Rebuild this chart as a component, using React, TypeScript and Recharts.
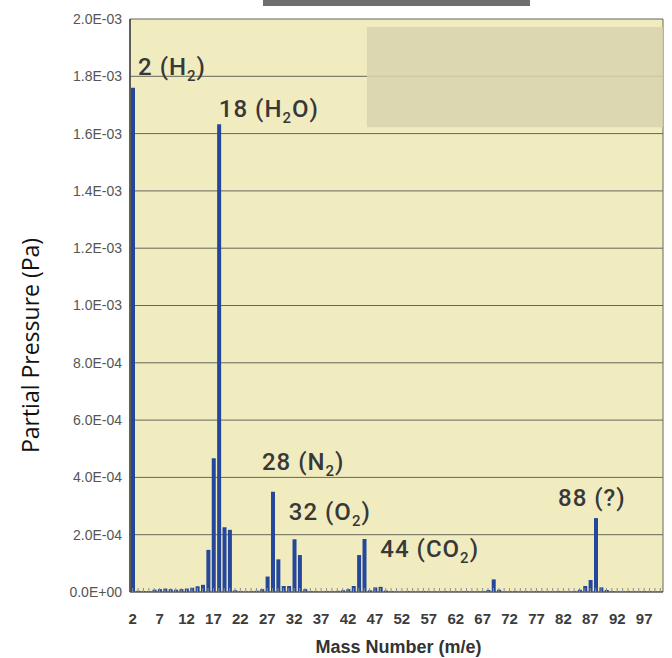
import { Bar, BarChart, CartesianGrid, ReferenceArea, ReferenceDot, XAxis, YAxis } from "recharts"

// mass numbers on the x axis (m/e 2 .. 100)
const massNumbers = Array.from({ length: 99 }, (_, i) => i + 2)

// partial pressure (Pa) read per mass number, starting at m/e 2
const pressures = [
  1.76e-3, 4e-6, 3e-6, 3e-6, 8e-6, 1.0e-5, 1.2e-5, 1.0e-5, 8e-6, 1.0e-5, // 2-11
  1.2e-5, 1.5e-5, 2.0e-5, 2.5e-5, 1.47e-4, 4.67e-4, 1.633e-3, 2.26e-4, 2.17e-4, 6e-6, // 12-21
  3e-6, 2e-6, 3e-6, 4e-6, 1.0e-5, 5.4e-5, 3.5e-4, 1.14e-4, 2.1e-5, 2.1e-5, // 22-31
  1.84e-4, 1.29e-4, 1.0e-5, 3e-6, 3e-6, 2e-6, 3e-6, 3e-6, 4e-6, 6e-6, // 32-41
  1.0e-5, 2.1e-5, 1.29e-4, 1.85e-4, 6e-6, 1.6e-5, 1.8e-5, 5e-6, 3e-6, 2e-6, // 42-51
  2e-6, 3e-6, 2e-6, 2e-6, 3e-6, 2e-6, 2e-6, 2e-6, 3e-6, 2e-6, // 52-61
  2e-6, 2e-6, 3e-6, 2e-6, 2e-6, 3e-6, 7e-6, 4.4e-5, 8e-6, 2e-6, // 62-71
  2e-6, 3e-6, 2e-6, 2e-6, 2e-6, 3e-6, 2e-6, 2e-6, 2e-6, 3e-6, // 72-81
  2e-6, 2e-6, 3e-6, 8e-6, 2.1e-5, 4.2e-5, 2.58e-4, 1.6e-5, 7e-6, 3e-6, // 82-91
  2e-6, 2e-6, 3e-6, 2e-6, 2e-6, 3e-6, 2e-6, 2e-6, 2e-6, // 92-100
]

const yTicks = [0, 2e-4, 4e-4, 6e-4, 8e-4, 1.0e-3, 1.2e-3, 1.4e-3, 1.6e-3, 1.8e-3, 2.0e-3]
const xTickLabels = [2, 7, 12, 17, 22, 27, 32, 37, 42, 47, 52, 57, 62, 67, 72, 77, 82, 87, 92, 97]

// peak annotations: text start (mass) and baseline (pressure)
const peakNotes = [
  { mass: 3, level: 1.804e-3, head: "2 (H", sub: "2", tail: ")" },
  { mass: 18, level: 1.657e-3, head: "18 (H", sub: "2", tail: "O)" },
  { mass: 26, level: 4.27e-4, head: "28 (N", sub: "2", tail: ")" },
  { mass: 31, level: 2.52e-4, head: "32 (O", sub: "2", tail: ")" },
  { mass: 48, level: 1.22e-4, head: "44 (CO", sub: "2", tail: ")" },
  { mass: 81, level: 3.0e-4, head: "88 (?)", sub: "", tail: "" },
]

const data = massNumbers.map((m, i) => ({ mass: m, pressure: pressures[i] }))

const fmtSci = (v: number) => {
  if (v === 0) return "0.0E+00"
  const [mant, exp] = v.toExponential(1).split("e")
  const e = Number(exp)
  return `${mant}E${e < 0 ? "-" : "+"}${String(Math.abs(e)).padStart(2, "0")}`
}

const XTick = (props: any) => {
  const { x, y, payload } = props
  const base = y - 10
  const show = xTickLabels.includes(payload.value)
  return (
    <g>
      <line x1={x} x2={x} y1={base} y2={base - 4} stroke="#8c8c96" strokeWidth={1} />
      {show && (
        <text
          x={x}
          y={base + 32}
          textAnchor="middle"
          fontFamily="'Liberation Sans Narrow', 'Liberation Sans', Arial, sans-serif"
          fontWeight="bold"
          fontSize={15}
          fill="#3c3c3c"
        >
          {payload.value}
        </text>
      )}
    </g>
  )
}

const XTitle = (props: any) => {
  const { viewBox } = props
  return (
    <text
      x={viewBox.x + viewBox.width / 2 + 2}
      y={viewBox.y + 61}
      textAnchor="middle"
      fontFamily="'Liberation Sans', Arial, sans-serif"
      fontWeight="bold"
      fontSize={18}
      fill="#333"
    >
      Mass Number (m/e)
    </text>
  )
}

const NoteLabel = (note: (typeof peakNotes)[number]) => (props: any) => {
  const { viewBox } = props
  return (
    <text
      x={viewBox.x}
      y={viewBox.y}
      fontFamily="Roboto, 'Liberation Sans', Arial, sans-serif"
      fontWeight={500}
      fontSize={24}
      letterSpacing={1}
      fill="#383838"
    >
      <tspan>{note.head}</tspan>
      {note.sub && (
        <tspan dy={6} fontSize={15}>
          {note.sub}
        </tspan>
      )}
      {note.tail && <tspan dy={note.sub ? -6 : 0}>{note.tail}</tspan>}
    </text>
  )
}

const YTitle = (props: any) => {
  const { viewBox } = props
  const cx = 30
  const cy = viewBox.y + viewBox.height / 2 + 40
  return (
    <text
      x={cx}
      y={cy}
      transform={`rotate(-90 ${cx} ${cy})`}
      textAnchor="middle"
      dominantBaseline="central"
      fontFamily="'Open Sans', sans-serif"
      fontSize={23}
      fill="#111"
    >
      Partial Pressure (Pa)
    </text>
  )
}

export default function App() {
  return (
    <div style={{ position: "fixed", left: 0, top: 0, width: 672, height: 658, background: "#fff" }}>
      <BarChart
        width={672}
        height={658}
        data={data}
        margin={{ top: 19, right: 9, bottom: 0, left: 0 }}
        barSize={4}
      >
        <CartesianGrid
          fill="#f1ecc0"
          stroke="#66665a"
          vertical
          verticalCoordinatesGenerator={({ offset }: any) => [offset.left, offset.left + offset.width]}
        />
        <ReferenceArea x1={46} x2={100} y1={1.622e-3} y2={1.972e-3} fill="#d8d3ae" fillOpacity={0.85} stroke="none" />
        <XAxis
          dataKey="mass"
          interval={0}
          height={66}
          tickSize={6}
          tickMargin={4}
          tickLine={false}
          axisLine={{ stroke: "#555" }}
          tick={<XTick />}
          label={<XTitle />}
        />
        <YAxis
          width={130}
          domain={[0, 2e-3]}
          ticks={yTicks}
          tickFormatter={fmtSci}
          tickLine={false}
          tickSize={0}
          tickMargin={8}
          axisLine={{ stroke: "#444", strokeWidth: 1.5 }}
          tick={{ fontFamily: "'Liberation Sans Narrow', 'Liberation Sans', Arial, sans-serif", fontSize: 14, fill: "#555" }}
          label={<YTitle />}
        />
        <Bar dataKey="pressure" fill="#25479b" isAnimationActive={false} />
        {peakNotes.map((n) => (
          <ReferenceDot key={n.head} x={n.mass} y={n.level} r={0} stroke="none" label={NoteLabel(n)} />
        ))}
      </BarChart>
      <div style={{ position: "absolute", left: 263, top: 0, width: 267, height: 6, background: "#6e6e6e", zIndex: 2 }} />
    </div>
  )
}
